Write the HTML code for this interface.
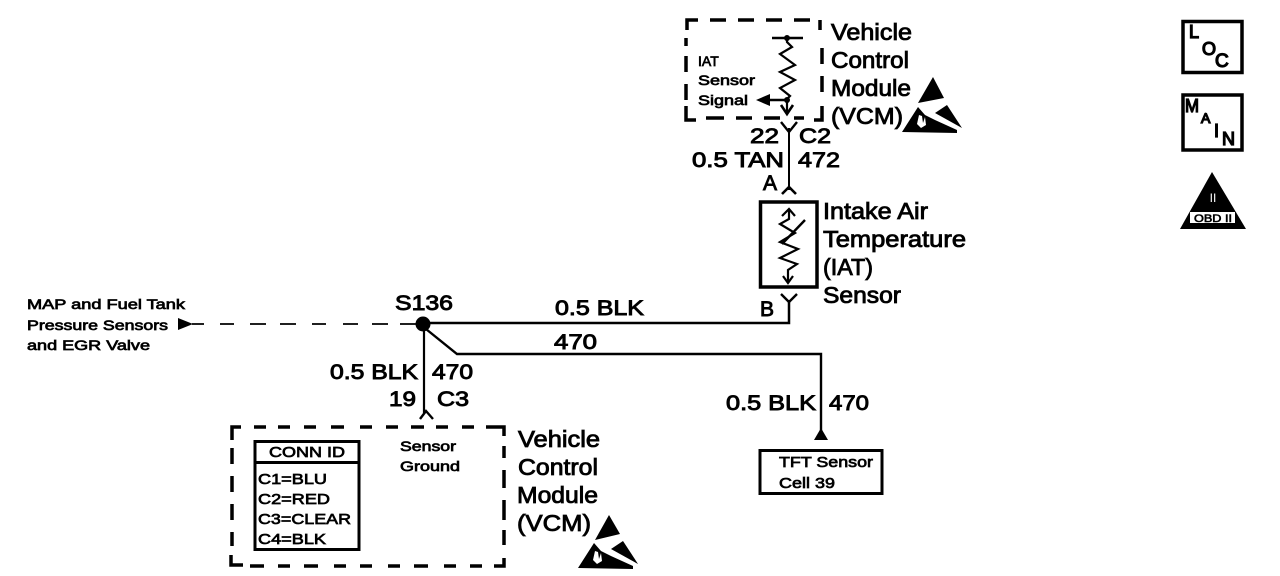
<!DOCTYPE html>
<html><head><meta charset="utf-8"><style>
html,body{margin:0;padding:0;background:#fff}
svg{display:block}
text{font-family:"Liberation Sans",sans-serif;fill:#000;stroke:#000;stroke-width:.85px}
.l{font-size:23px}.m{font-size:21px;stroke-width:.9px}.s{font-size:14px;stroke-width:.7px}.t{font-size:15px;stroke-width:.7px}
.b{stroke-width:1.3px}
</style></head><body>
<svg width="1280" height="576" viewBox="0 0 1280 576" xmlns="http://www.w3.org/2000/svg">
<g fill="none" stroke="#000" stroke-linecap="butt">
<!-- top VCM dashed box -->
<path d="M687 30V20H698M710 20H726M738 20H754M766 20H782M794 20H810M820 20V30" stroke-width="3.5"/>
<path d="M686 38V46M686 56V72M686 84V100M686 106V120H696M706 118H724M736 118H752M764 118H780M794 118H804M814 120H822V106M822 92V76M822 64V48" stroke-width="3.5"/>
<!-- top resistor -->
<path d="M772 38H803" stroke-width="2.5"/>
<path d="M787 38V42L792 47L780 54L795 65L780 72L795 80L780 88L790 96L787 99V112" stroke-width="2.2"/>
<path d="M787 100H766" stroke-width="2.5"/>
<path d="M781 105L787 114L793 105" stroke-width="2.6"/>
<!-- wire to sensor -->
<path d="M789 128V190" stroke-width="2"/>
<path d="M781 122L789 132L797 122" stroke-width="2.4"/>
<path d="M782 194L789 187L796 194" stroke-width="2.6"/>
<!-- sensor box -->
<rect x="760.500" y="202" width="56.500" height="85" stroke-width="3.500"/>
<path d="M789 209V219L780 224L795 233L780 242L798 249L780 258L797 264L788 270V281" stroke-width="2.2"/>
<path d="M782 216L789 209L795 216M783 276L788 283L793 276" stroke-width="2.2"/>
<path d="M782 244L805 220" stroke-width="2.400"/>
<!-- B connector -->
<path d="M781 294L789 302L797 294" stroke-width="2.4"/>
<path d="M789 300V323H424" stroke-width="2.500"/>
<!-- left dashed -->
<path d="M192 324H204M220 324H234M250 324H266M280 324H296M312 324H326M343 324H358M372 324H388M400 324H416" stroke-width="1.800"/>
<!-- splice lines -->
<path d="M424 325V413" stroke-width="2.200"/>
<path d="M421 325L457 354H821V432" stroke-width="2.400"/>
<path d="M420 419L426 411L433 419" stroke-width="2.400"/>
<!-- lower VCM dashed box -->
<path d="M232 440V427H241M254 427H266M278 427H290M304 427H316M331 427H344M360 427H372M386 427H398M411 427H424M436 427H448M462 427H474M486 427H504V436" stroke-width="3.500"/>
<path d="M232 448V464M232 476V492M232 504V520M232 532V546M231 555V565H243M250 566H264M278 566H290M304 566H318M334 566H346M360 566H372M388 566H400M414 566H428M444 566H456M470 566H482M494 566H504V558M504 545V530M504 520V500M504 488V470M504 458V446" stroke-width="3.500"/>
<!-- conn id box -->
<rect x="255" y="441.500" width="104" height="108" stroke-width="3"/>
<path d="M255 462.500H359" stroke-width="3"/>
<!-- TFT box -->
<rect x="760" y="450.500" width="122" height="43" stroke-width="3"/>
<!-- LOC, MAIN -->
<rect x="1183" y="21.500" width="59" height="51" stroke-width="3.500"/>
<rect x="1183" y="95" width="59" height="55" stroke-width="3.500"/>
</g>
<circle cx="423" cy="324" r="7.500"/>
<circle cx="787" cy="38" r="3"/>
<circle cx="787" cy="100" r="3"/>
<!-- arrowheads -->
<path d="M756 100L770 94V106Z"/>
<path d="M178 318L193 324L178 330Z"/>
<path d="M821 428L828 440H814Z"/>
<!-- ESD top -->
<g id="esd">
<path d="M933 77L944 98L918 103Z"/>
<path d="M902 132L918 107L925 115L935 120L957 130V133Z"/>
<path d="M947 105L962 128L935 113Z"/>
<path d="M917 124l2-9l3 1l1 7l2-6l1 8l-5 3z" fill="#fff"/>
</g>
<!-- ESD bottom -->
<g transform="translate(-324,436)">
<path d="M933 79L944 98L919 104Z"/>
<path d="M902 132L918 107L925 115L935 120L957 130V133Z"/>
<path d="M947 105L962 128L935 113Z"/>
<path d="M917 124l2-9l3 1l1 7l2-6l1 8l-5 3z" fill="#fff"/>
</g>
<!-- OBD -->
<path d="M1212 172L1246 229H1180Z"/>
<rect x="1190" y="212" width="45" height="11" fill="#fff"/>
<text x="1213" y="222" text-anchor="middle" style="font-size:11px;stroke-width:.6" textLength="38" lengthAdjust="spacingAndGlyphs">OBD II</text>
<text x="1213" y="202" text-anchor="middle" style="font-size:12px;fill:#fff;stroke:none">II</text>
<!-- labels top VCM -->
<text class="l" x="831" y="40" textLength="81" lengthAdjust="spacingAndGlyphs">Vehicle</text>
<text class="l" x="831" y="68" textLength="78" lengthAdjust="spacingAndGlyphs">Control</text>
<text class="l" x="831" y="96" textLength="80" lengthAdjust="spacingAndGlyphs">Module</text>
<text class="l" x="831" y="124" textLength="72" lengthAdjust="spacingAndGlyphs">(VCM)</text>
<text class="s" x="698" y="66">IAT</text>
<text class="s" x="698" y="85" textLength="57" lengthAdjust="spacingAndGlyphs">Sensor</text>
<text class="s" x="698" y="105" textLength="50" lengthAdjust="spacingAndGlyphs">Signal</text>
<text class="m" x="750" y="143" textLength="29" lengthAdjust="spacingAndGlyphs">22</text>
<text class="m" x="799" y="143" textLength="32" lengthAdjust="spacingAndGlyphs">C2</text>
<text class="m" x="692" y="167" textLength="92" lengthAdjust="spacingAndGlyphs">0.5 TAN</text>
<text class="m" x="798" y="167" textLength="42" lengthAdjust="spacingAndGlyphs">472</text>
<text class="m" x="763" y="190">A</text>
<!-- sensor labels -->
<text class="l" x="823" y="219" textLength="105" lengthAdjust="spacingAndGlyphs">Intake Air</text>
<text class="l" x="823" y="247" textLength="143" lengthAdjust="spacingAndGlyphs">Temperature</text>
<text class="l" x="823" y="275" textLength="50" lengthAdjust="spacingAndGlyphs">(IAT)</text>
<text class="l" x="823" y="303" textLength="78" lengthAdjust="spacingAndGlyphs">Sensor</text>
<text class="m" x="760" y="316">B</text>
<!-- mid labels -->
<text class="m" x="395" y="310" textLength="58" lengthAdjust="spacingAndGlyphs">S136</text>
<text class="m" x="555" y="315" textLength="89" lengthAdjust="spacingAndGlyphs">0.5 BLK</text>
<text class="m" x="554" y="349" textLength="43" lengthAdjust="spacingAndGlyphs">470</text>
<text class="s" x="27" y="309" textLength="158" lengthAdjust="spacingAndGlyphs">MAP and Fuel Tank</text>
<text class="s" x="27" y="330" textLength="141" lengthAdjust="spacingAndGlyphs">Pressure Sensors</text>
<text class="s" x="27" y="350" textLength="123" lengthAdjust="spacingAndGlyphs">and EGR Valve</text>
<text class="m" x="330" y="379" textLength="88" lengthAdjust="spacingAndGlyphs">0.5 BLK</text>
<text class="m" x="432" y="379" textLength="41" lengthAdjust="spacingAndGlyphs">470</text>
<text class="m" x="389" y="406" textLength="27" lengthAdjust="spacingAndGlyphs">19</text>
<text class="m" x="437" y="406" textLength="32" lengthAdjust="spacingAndGlyphs">C3</text>
<text class="m" x="726" y="410" textLength="90" lengthAdjust="spacingAndGlyphs">0.5 BLK</text>
<text class="m" x="829" y="410" textLength="40" lengthAdjust="spacingAndGlyphs">470</text>
<!-- TFT -->
<text class="t" x="779" y="467" textLength="94" lengthAdjust="spacingAndGlyphs">TFT Sensor</text>
<text class="t" x="779" y="488" textLength="56" lengthAdjust="spacingAndGlyphs">Cell 39</text>
<!-- lower VCM -->
<text class="s" x="400" y="451" textLength="56" lengthAdjust="spacingAndGlyphs">Sensor</text>
<text class="s" x="400" y="471" textLength="60" lengthAdjust="spacingAndGlyphs">Ground</text>
<text class="t" x="269" y="457" textLength="76" lengthAdjust="spacingAndGlyphs">CONN ID</text>
<text class="t" x="258" y="484" textLength="69" lengthAdjust="spacingAndGlyphs">C1=BLU</text>
<text class="t" x="258" y="504" textLength="72" lengthAdjust="spacingAndGlyphs">C2=RED</text>
<text class="t" x="258" y="524" textLength="93" lengthAdjust="spacingAndGlyphs">C3=CLEAR</text>
<text class="t" x="258" y="544" textLength="68" lengthAdjust="spacingAndGlyphs">C4=BLK</text>
<text class="l" x="518" y="447" textLength="82" lengthAdjust="spacingAndGlyphs">Vehicle</text>
<text class="l" x="518" y="475" textLength="80" lengthAdjust="spacingAndGlyphs">Control</text>
<text class="l" x="517" y="503" textLength="81" lengthAdjust="spacingAndGlyphs">Module</text>
<text class="l" x="517" y="531" textLength="74" lengthAdjust="spacingAndGlyphs">(VCM)</text>
<!-- LOC / MAIN letters -->
<text class="b" x="1189" y="38" style="font-size:18px">L</text>
<text class="b" x="1202" y="55" style="font-size:18px">O</text>
<text class="b" x="1215" y="67" style="font-size:19px">C</text>
<text class="b" x="1185" y="112" style="font-size:18px" textLength="14" lengthAdjust="spacingAndGlyphs">M</text>
<text class="b" x="1201" y="123" style="font-size:14px">A</text>
<text class="b" x="1214" y="137" style="font-size:18px">I</text>
<text class="b" x="1222" y="145" style="font-size:18px">N</text>
</svg>
</body></html>
